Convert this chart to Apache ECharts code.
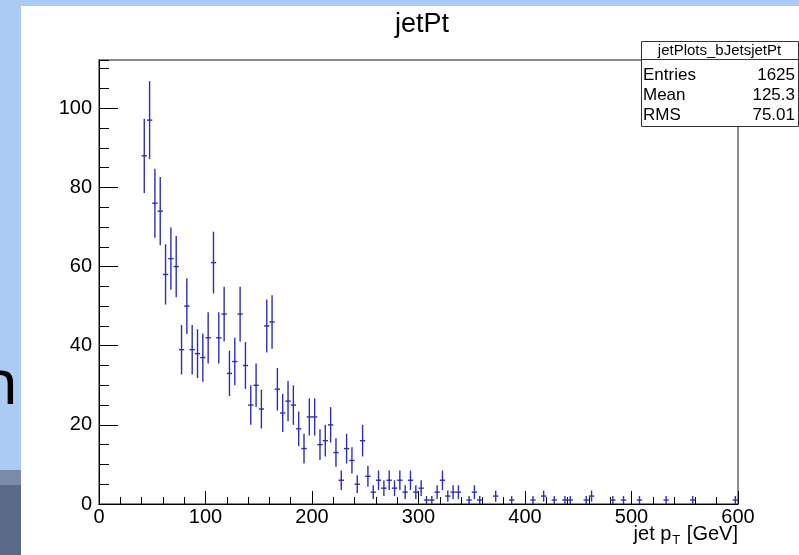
<!DOCTYPE html>
<html>
<head>
<meta charset="utf-8">
<title>jetPt</title>
<script src="https://cdn.jsdelivr.net/npm/echarts@6/dist/echarts.min.js"></script>
<style>
  html, body { margin: 0; padding: 0; background: #abcaf4; }
  #chart { width: 799px; height: 555px; }
</style>
</head>
<body>
<div id="chart"></div>
<script>
// jet pT histogram, 5 GeV bins from 0 to 600 GeV
const binWidth = 5;
const counts = [
  0, 0, 0, 0, 0, 0, 0, 0, 88, 97,
  76, 74, 58, 62, 60, 39, 50, 39, 38, 37,
  42, 61, 42, 48, 33, 36, 48, 35, 25, 30,
  24, 45, 46, 29, 23, 26, 25, 19, 14, 22,
  22, 15, 16, 20, 13, 6, 14, 11, 5, 16,
  7, 3, 6, 4, 6, 4, 6, 3, 6, 3,
  4, 1, 1, 3, 6, 2, 3, 3, 0, 1,
  3, 1, 0, 0, 2, 0, 0, 1, 0, 0,
  0, 1, 0, 2, 0, 1, 0, 1, 1, 0,
  0, 1, 2, 0, 0, 0, 1, 0, 1, 0,
  0, 1, 0, 0, 0, 0, 1, 0, 0, 0,
  0, 1, 0, 0, 0, 0, 0, 0, 0, 1
];
const xRange = [0, 600];
const yRange = [0, 112.2];
const statLabels = ['Entries', 'Mean', 'RMS'];
const statValues = ['1625', '125.3', '75.01'];
const histName = 'jetPlots_bJetsjetPt';

const markColor = '#2e2eb4';
const font = 'Liberation Sans';

// [bin centre, count, sqrt(count)] for filled bins only
const points = counts
  .map((c, i) => [i * binWidth + binWidth / 2, c, Math.sqrt(c)])
  .filter(p => p[1] > 0);

const chart = echarts.init(document.getElementById('chart'));

const option = {
  backgroundColor: '#abcaf4',
  animation: false,
  title: {
    text: 'jetPt',
    left: 417,
    top: 6,
    textAlign: 'center',
    textStyle: { fontFamily: font, fontSize: 27, fontWeight: 'normal', color: '#000' }
  },
  grid: {
    left: 99, right: 61, top: 60, bottom: 51,
    outerBoundsMode: 'none',
    show: true, borderColor: '#666', borderWidth: 1.5, backgroundColor: 'transparent'
  },
  xAxis: {
    type: 'value',
    min: xRange[0], max: xRange[1], interval: 100,
    axisLine: { lineStyle: { color: '#000', width: 1 } },
    axisTick: { inside: true, length: 13, lineStyle: { color: '#000' } },
    minorTick: { show: true, splitNumber: 5, length: 7, lineStyle: { color: '#000' } },
    splitLine: { show: false },
    axisLabel: { fontFamily: font, fontSize: 20, color: '#000', margin: 3 }
  },
  yAxis: [
    {
      type: 'value',
      min: yRange[0], max: yRange[1], interval: 20,
      axisLine: { show: true, lineStyle: { color: '#000', width: 1 } },
      axisTick: { show: true, inside: true, length: 19, lineStyle: { color: '#000' } },
      splitLine: { show: false },
      axisLabel: { fontFamily: font, fontSize: 20, color: '#000', margin: 7, showMaxLabel: false }
    },
    {
      // short ticks every 5
      type: 'value', position: 'left',
      min: yRange[0], max: yRange[1], interval: 5,
      axisLine: { show: false },
      axisTick: { show: true, inside: true, length: 10, lineStyle: { color: '#000' } },
      splitLine: { show: false },
      axisLabel: { show: false }
    }
  ],
  series: [{
    type: 'custom',
    xAxisIndex: 0,
    yAxisIndex: 0,
    data: points,
    renderItem: (params, api) => {
      const x = api.value(0), y = api.value(1), e = api.value(2);
      const left = api.coord([x - binWidth / 2, y]);
      const right = api.coord([x + binWidth / 2, y]);
      const top = api.coord([x, y + e]);
      const bot = api.coord([x, Math.max(y - e, 0)]);
      const st = { stroke: markColor, lineWidth: 1.4 };
      return {
        type: 'group',
        children: [
          { type: 'line', shape: { x1: left[0], y1: left[1], x2: right[0], y2: right[1] }, style: st },
          { type: 'line', shape: { x1: top[0], y1: top[1], x2: bot[0], y2: bot[1] }, style: st }
        ]
      };
    }
  }],
  graphic: [
    // slide behind the canvas
    { type: 'text', z: -20, x: 18, y: 386,
      style: { text: 'n', font: 'normal 62px "Noto Sans"', fill: '#000', align: 'right', verticalAlign: 'middle' } },
    { type: 'rect', z: -19, shape: { x: 0, y: 470, width: 21, height: 15 }, style: { fill: '#7b8aa6' } },
    { type: 'rect', z: -19, shape: { x: 0, y: 485, width: 21, height: 70 }, style: { fill: '#5a6b89' } },
    { type: 'rect', z: -18, shape: { x: 21, y: 6, width: 778, height: 549 }, style: { fill: '#fff' } },
    // x axis title
    { type: 'text', z: 10, x: 738, y: 521,
      style: {
        text: '{a|jet p}{s|T}{a| [GeV]}',
        align: 'right', verticalAlign: 'top',
        rich: {
          a: { fontFamily: font, fontSize: 20, fill: '#000' },
          s: { fontFamily: font, fontSize: 13, fill: '#000', padding: [13, 1, 0, 1] }
        }
      } },
    // stats box
    {
      type: 'group', z: 10,
      children: [
        { type: 'rect', shape: { x: 641.5, y: 41.5, width: 157, height: 85 },
          style: { fill: '#fff', stroke: '#333', lineWidth: 1 } },
        { type: 'line', shape: { x1: 641.5, y1: 59.5, x2: 798.5, y2: 59.5 },
          style: { stroke: '#333', lineWidth: 1 } },
        { type: 'text', x: 719.5, y: 50.5,
          style: { text: histName, font: '15px "Liberation Sans"', fill: '#000', align: 'center', verticalAlign: 'middle' } }
      ].concat(
        statLabels.map((s, i) => ({ type: 'text', x: 643, y: 75 + i * 20,
          style: { text: s, font: '17px "Liberation Sans"', fill: '#000', align: 'left', verticalAlign: 'middle' } })),
        statValues.map((s, i) => ({ type: 'text', x: 795, y: 75 + i * 20,
          style: { text: s, font: '17px "Liberation Sans"', fill: '#000', align: 'right', verticalAlign: 'middle' } }))
      )
    }
  ]
};

chart.setOption(option);
</script>
</body>
</html>
